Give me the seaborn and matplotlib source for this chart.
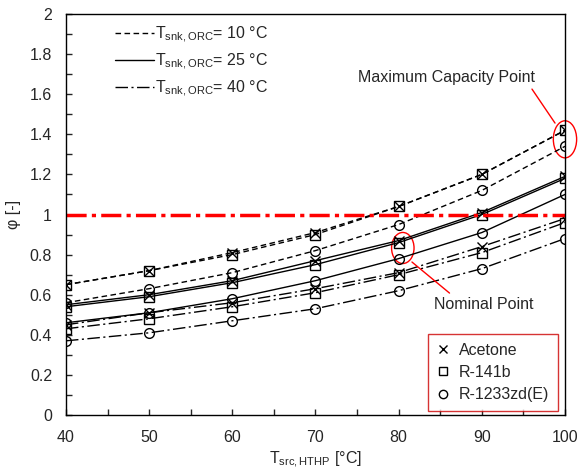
import numpy as np
import pandas as pd
import matplotlib
matplotlib.use("Agg")
import matplotlib.pyplot as plt
from matplotlib.lines import Line2D
from matplotlib.patches import Ellipse
import seaborn as sns

# Data
t_src = [40, 50, 60, 70, 80, 90, 100]
fluids = ["Acetone", "R-141b", "R-1233zd(E)"]
t_snk = [10, 25, 40]

acetone_10 = [0.65, 0.72, 0.81, 0.91, 1.04, 1.20, 1.42]
acetone_25 = [0.55, 0.60, 0.67, 0.77, 0.87, 1.01, 1.19]
acetone_40 = [0.45, 0.51, 0.56, 0.63, 0.71, 0.84, 0.98]
r141b_10 = [0.65, 0.72, 0.80, 0.90, 1.04, 1.20, 1.42]
r141b_25 = [0.54, 0.59, 0.66, 0.75, 0.86, 1.00, 1.18]
r141b_40 = [0.43, 0.48, 0.54, 0.61, 0.70, 0.81, 0.96]
r1233_10 = [0.56, 0.63, 0.71, 0.82, 0.95, 1.12, 1.34]
r1233_25 = [0.46, 0.51, 0.58, 0.67, 0.78, 0.91, 1.10]
r1233_40 = [0.37, 0.41, 0.47, 0.53, 0.62, 0.73, 0.88]

series = {
    ("Acetone", 10): acetone_10, ("Acetone", 25): acetone_25, ("Acetone", 40): acetone_40,
    ("R-141b", 10): r141b_10, ("R-141b", 25): r141b_25, ("R-141b", 40): r141b_40,
    ("R-1233zd(E)", 10): r1233_10, ("R-1233zd(E)", 25): r1233_25, ("R-1233zd(E)", 40): r1233_40,
}

rows = []
for (fl, ts), vals in series.items():
    for x, v in zip(t_src, vals):
        rows.append({"fluid": fl, "tsnk": ts, "T_src": x, "phi": v})
df = pd.DataFrame(rows)

sns.set_style("ticks")
plt.rcParams["font.family"] = ["Liberation Sans", "DejaVu Sans"]
plt.rcParams["mathtext.fontset"] = "custom"
plt.rcParams["mathtext.rm"] = "Liberation Sans"
plt.rcParams["mathtext.it"] = "Liberation Sans"

markers = {"Acetone": "x", "R-141b": "s", "R-1233zd(E)": "o"}
styles = {10: (0, (4, 2.5)), 25: "-", 40: (0, (9, 2.5, 1.5, 2.5))}

fig = plt.figure(figsize=(5.87, 4.73), dpi=100)
ax = fig.add_axes([0.1124, 0.1226, 0.8501, 0.8478])

for (fl, ts), sub in df.groupby(["fluid", "tsnk"]):
    sns.lineplot(data=sub, x="T_src", y="phi", ax=ax, color="black", lw=1,
                 linestyle=styles[ts], marker=markers[fl], markersize=7,
                 markerfacecolor="none", markeredgecolor="black",
                 markeredgewidth=1, legend=False)

# reference line
ax.plot([40, 100], [1, 1], color="red", lw=2.5, linestyle=(0, (5.8, 1.5, 1.2, 1.5)))

ax.set_xlim(40, 100)
ax.set_ylim(0, 2)
ax.set_xticks(range(40, 101, 10))
ax.set_xticks(range(45, 100, 10), minor=True)
ax.set_yticks(np.arange(0, 2.01, 0.2))
ax.set_yticks(np.arange(0.1, 2.0, 0.2), minor=True)
ax.set_yticklabels(["0", "0.2", "0.4", "0.6", "0.8", "1", "1.2", "1.4", "1.6", "1.8", "2"])
ax.tick_params(which="both", direction="in", length=4, width=1, labelsize=11.5,
               top=False, right=False)
ax.tick_params(axis="x", pad=11)
ax.tick_params(axis="y", pad=10)
for s in ax.spines.values():
    s.set_visible(True)
    s.set_color("black")
    s.set_linewidth(1)

ax.set_xlabel(r"T$_{\mathrm{src,HTHP}}$ [°C]", fontsize=11.5, labelpad=3)
ax.set_ylabel("φ [-]", fontsize=11.5, labelpad=6)

# annotations
ax.add_patch(Ellipse((100, 1.375), 2.8, 0.185, fill=False, edgecolor="red", lw=1, clip_on=False))
ax.annotate("Maximum Capacity Point", xy=(98.8, 1.456), xytext=(85.7, 1.685),
            fontsize=11.5, ha="center", va="center",
            arrowprops=dict(arrowstyle="-", color="red", lw=1, shrinkA=1, shrinkB=0,
                            relpos=(0.98, -0.2)))
ax.add_patch(Ellipse((80.5, 0.833), 2.7, 0.155, fill=False, edgecolor="red", lw=1))
ax.annotate("Nominal Point", xy=(81.6, 0.763), xytext=(90.2, 0.55),
            fontsize=11.5, ha="center", va="center",
            arrowprops=dict(arrowstyle="-", color="red", lw=1, shrinkA=1, shrinkB=0,
                            relpos=(0.2, 1.05)))

# legends
line_handles = [Line2D([], [], color="black", lw=1, linestyle=styles[t]) for t in t_snk]
line_labels = [r"T$_{\mathrm{snk,ORC}}$= %d °C" % t for t in t_snk]
leg1 = ax.legend(line_handles, line_labels, loc="upper left", frameon=False,
                 fontsize=11.5, handlelength=2.4, handletextpad=0.1,
                 labelspacing=0.42, bbox_to_anchor=(0.07, 1.01))
ax.add_artist(leg1)

mk_handles = [Line2D([], [], color="black", lw=0, marker=markers[f], markersize=6,
                     markerfacecolor="none", markeredgewidth=1) for f in fluids]
leg2 = ax.legend(mk_handles, fluids, loc="lower right", fontsize=11.5,
                 frameon=True, fancybox=False, edgecolor="#cc0000",
                 handlelength=0.8, handletextpad=0.6, labelspacing=0.45,
                 borderpad=0.55, borderaxespad=0, bbox_to_anchor=(0.986, 0.01))
leg2.get_frame().set_linewidth(1)

fig.savefig("out.png", dpi=100)
